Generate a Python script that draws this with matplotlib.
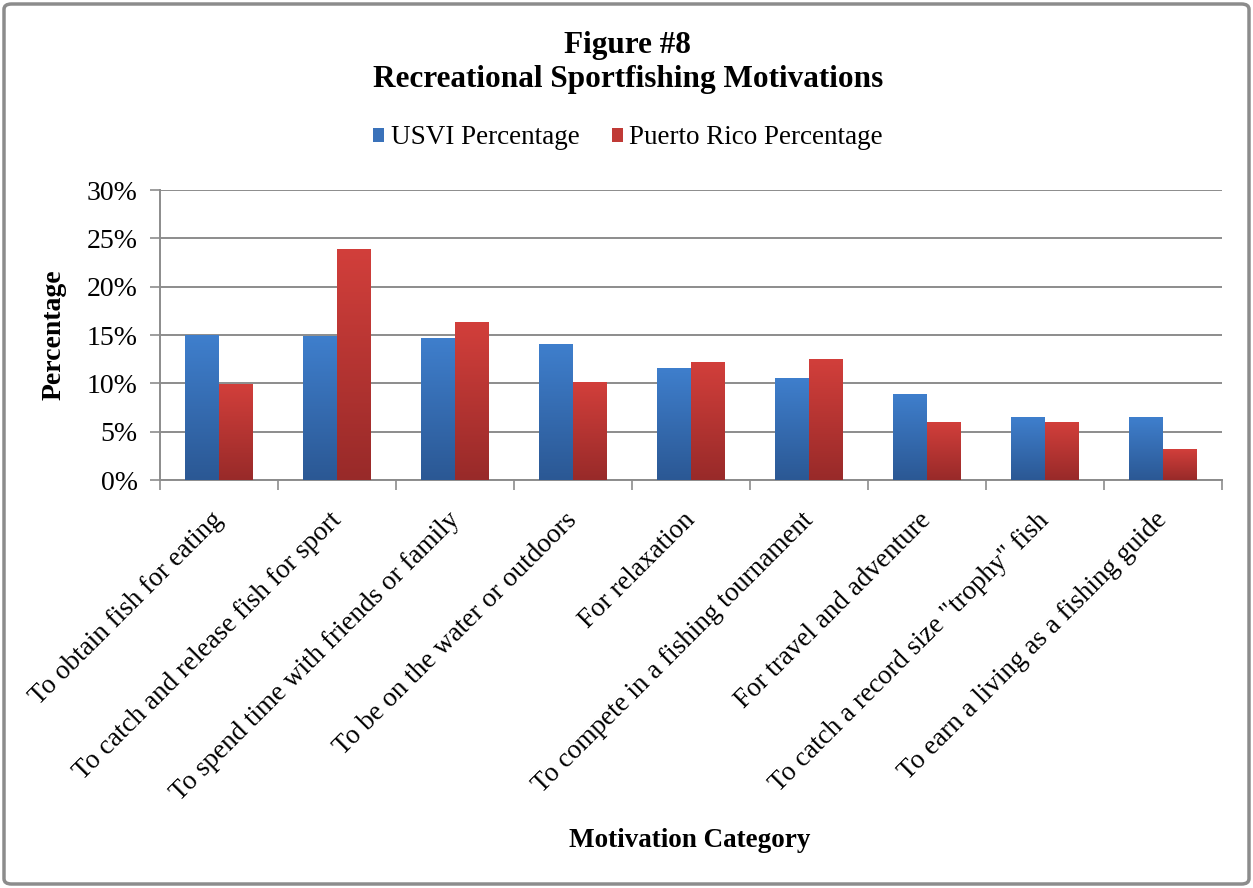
import matplotlib
matplotlib.use("Agg")
import matplotlib.pyplot as plt
import numpy as np
from matplotlib.colors import LinearSegmentedColormap
from matplotlib.patches import FancyBboxPatch
from matplotlib.ticker import PercentFormatter

categories = [
    "To obtain fish for eating",
    "To catch and release fish for sport",
    "To spend time with friends or family",
    "To be on the water or outdoors",
    "For relaxation",
    "To compete in a fishing tournament",
    "For travel and adventure",
    'To catch a record size "trophy" fish',
    "To earn a living as a fishing guide",
]
usvi = [15.0, 14.9, 14.7, 14.1, 11.6, 10.6, 8.9, 6.5, 6.5]
puerto_rico = [9.9, 23.9, 16.3, 10.1, 12.2, 12.5, 6.0, 6.0, 3.2]
series_names = ["USVI Percentage", "Puerto Rico Percentage"]
yticks = [0, 5, 10, 15, 20, 25, 30]

plt.rcParams['font.family'] = ['Liberation Serif', 'DejaVu Serif']

W, H = 1253, 888
fig = plt.figure(figsize=(W / 100, H / 100), dpi=100)
fig.patch.set_facecolor('white')

ax = fig.add_axes([160 / W, 1 - 480 / H, (1222 - 160) / W, (480 - 190) / H])

x = np.arange(len(categories))
bw = 0.288
blue_cmap = LinearSegmentedColormap.from_list('b', ['#2b5894', '#3f7fcd'])
red_cmap = LinearSegmentedColormap.from_list('r', ['#982a29', '#d23f3b'])

b1 = ax.bar(x - bw / 2, usvi, bw, color='#3a72ba', zorder=3, linewidth=0)
b2 = ax.bar(x + bw / 2, puerto_rico, bw, color='#c03a36', zorder=3, linewidth=0)

grad = np.linspace(0, 1, 256).reshape(-1, 1)
for bars, cmap in ((b1, blue_cmap), (b2, red_cmap)):
    for p in bars:
        bx, by = p.get_x(), p.get_y()
        w, h = p.get_width(), p.get_height()
        im = ax.imshow(grad, extent=[bx, bx + w, by, by + h], origin='lower',
                       cmap=cmap, aspect='auto', zorder=4, interpolation='bilinear')
        im.set_clip_path(p)

ax.set_xlim(-0.5, len(categories) - 0.5)
ax.set_ylim(0, 30)
ax.set_yticks(yticks)
ax.yaxis.set_major_formatter(PercentFormatter(decimals=0))
ax.yaxis.grid(True, color='#8c8c8c', linewidth=1.4, zorder=0)
ax.set_axisbelow(True)

# label anchors sit slightly left of the category centre, as in the original
ax.set_xticks(x - 0.07)
ax.set_xticklabels(categories, rotation=45, ha='right', rotation_mode='anchor',
                   fontsize=19.5)
ax.set_xticks(np.arange(len(categories) + 1) - 0.5, minor=True)
ax.tick_params(axis='x', which='major', length=0, pad=20)
ax.tick_params(axis='x', which='minor', length=7, color='#8c8c8c', width=1.2)
ax.tick_params(axis='y', length=7, color='#8c8c8c', width=1.2, labelsize=20, pad=9)

for s in ['top', 'right']:
    ax.spines[s].set_visible(False)
for s in ['left', 'bottom']:
    ax.spines[s].set_color('#8c8c8c')
    ax.spines[s].set_linewidth(1.4)

ax.set_ylabel('Percentage', fontsize=20, fontweight='bold')
ax.yaxis.set_label_coords((67 - 160) / (1222 - 160), 0.5)
fig.text(690 / W, 1 - 840 / H, 'Motivation Category', ha='center', va='center',
         fontsize=19.5, fontweight='bold')

fig.text(627 / W, 1 - 45 / H, 'Figure #8', ha='center', va='center',
         fontsize=22.5, fontweight='bold')
fig.text(628 / W, 1 - 79 / H, 'Recreational Sportfishing Motivations', ha='center',
         va='center', fontsize=22.5, fontweight='bold')

leg = fig.legend([b1, b2], series_names, loc='center', bbox_to_anchor=(628 / W, 1 - 138 / H),
                 ncol=2, frameon=False, fontsize=19.5, handlelength=0.4, handleheight=0.4,
                 handletextpad=0.25, columnspacing=1.2)
for hpatch, c in zip(leg.legend_handles, ['#3a72ba', '#c03a36']):
    hpatch.set_color(c)

border = FancyBboxPatch((4 / W, 4 / H), (W - 8) / W, (H - 8) / H,
                        boxstyle='round,pad=0,rounding_size=0.006',
                        transform=fig.transFigure, facecolor='none',
                        edgecolor='#8c8c8c', linewidth=2.5, zorder=10)
fig.patches.append(border)

fig.savefig('out.png', dpi=100, facecolor='white')
